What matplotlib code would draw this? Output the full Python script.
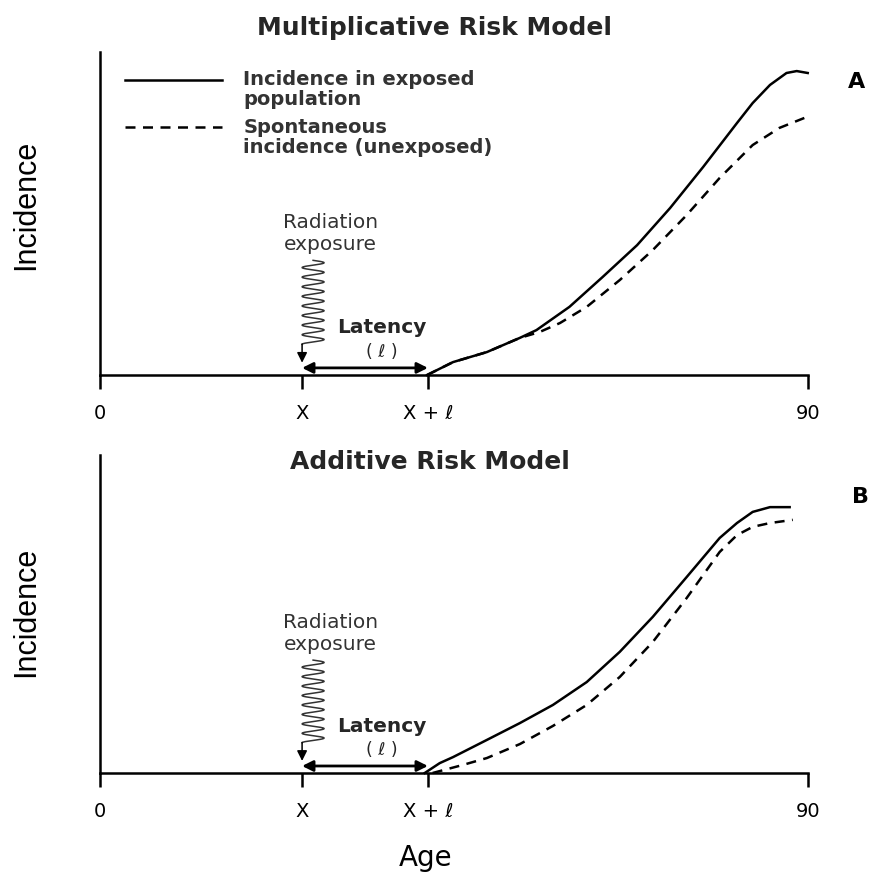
import numpy as np
import matplotlib
matplotlib.use("Agg")
from matplotlib import pyplot as plt
from matplotlib.legend_handler import HandlerLine2D

plt.rcParams.update({"font.family": ["DejaVu Sans"],
                     "font.size": 11,
                     "axes.linewidth": 1.8})

# ages (years) and incidence (relative units, 0-100 axis)
x_age = 25.7
latency = 16.0
age_max = 90

# multiplicative model
mult_exposed_age = [41.6, 44.9, 49.2, 53.4, 55.5, 59.7, 63.9, 68.3, 72.5,
                    76.7, 81.0, 83.0, 85.2, 87.3, 88.6, 90.0]
mult_exposed_inc = [0, 4.0, 7.1, 11.5, 13.9, 21.1, 30.3, 40.2, 51.7,
                    64.4, 78.0, 84.2, 89.8, 93.5, 94.1, 93.5]
mult_spont_age = [41.6, 44.9, 49.2, 53.4, 55.9, 58.5, 61.9, 66.1, 70.3,
                  74.6, 78.8, 83.0, 86.4, 89.9]
mult_spont_inc = [0, 4.0, 7.1, 11.5, 13.3, 16.1, 21.1, 29.4, 38.7,
                  49.5, 61.0, 71.2, 76.5, 79.9]

# additive model
add_exposed_age = [41.3, 43.2, 44.9, 49.2, 53.4, 57.6, 61.9, 66.1, 70.3,
                   74.6, 78.8, 81.0, 83.0, 85.2, 87.7]
add_exposed_inc = [0, 3.1, 5.0, 10.4, 15.7, 21.4, 28.6, 38.1, 49.1,
                   61.6, 73.9, 78.6, 82.1, 83.6, 83.6]
add_spont_age = [42.3, 46.1, 49.2, 53.4, 57.6, 61.9, 66.1, 70.3, 74.6,
                 78.8, 81.0, 83.0, 85.2, 88.1]
add_spont_inc = [0, 2.5, 4.7, 9.1, 14.8, 21.4, 30.2, 41.2, 55.0,
                 69.5, 74.8, 77.4, 78.6, 79.6]

tick_pos = [0, x_age, x_age + latency, age_max]
tick_lab = ["0", "X", "X + \u2113", "90"]


class FirstLineHandler(HandlerLine2D):
    # put the key line next to the first text line, not the middle
    def create_artists(self, legend, orig_handle, xdescent, ydescent,
                       width, height, fontsize, trans):
        arts = super().create_artists(legend, orig_handle, xdescent,
                                      ydescent, width, height, fontsize,
                                      trans)
        for a in arts:
            a.set_ydata(np.asarray(a.get_ydata()) + 0.55 * fontsize)
        return arts


fig = plt.figure(figsize=(8.88, 8.77), dpi=100)
ax1 = fig.add_axes([0.1126, 0.5724, 0.797, 0.3683])
ax2 = fig.add_axes([0.1126, 0.1186, 0.797, 0.3626])


def setup(ax, label_y):
    ax.set_xlim(0, age_max)
    ax.set_ylim(0, 100)
    for s in ["top", "right"]:
        ax.spines[s].set_visible(False)
    ax.set_yticks([])
    ax.set_xticks(tick_pos)
    ax.set_xticklabels(tick_lab, fontsize=14)
    ax.tick_params(axis="x", direction="out", length=10, width=1.8, pad=11)
    ax.set_ylabel("Incidence", fontsize=22, family="Liberation Sans")
    ax.yaxis.set_label_coords(-0.083, label_y)


def exposure_marks(ax):
    # wavy radiation arrow
    t = np.linspace(0, 1, 500)
    wy = 35.5 - 26 * t
    wx = x_age + 1.4 + 1.4 * np.sin(2 * np.pi * 8.75 * t)
    ax.plot(wx, wy, color="0.2", lw=1.1, clip_on=False)
    ax.annotate("", xy=(x_age, 3.8), xytext=(x_age, 9.6),
                arrowprops=dict(arrowstyle="-|>", color="k", lw=1.1,
                                mutation_scale=15, shrinkA=0, shrinkB=0))
    ax.text(x_age + 3.6, 47.2, "Radiation", ha="center", va="center",
            fontsize=14.5, color="0.2")
    ax.text(x_age + 3.6, 40.3, "exposure", ha="center", va="center",
            fontsize=14.5, color="0.2")
    # latency
    ax.annotate("", xy=(x_age, 2.2), xytext=(x_age + latency, 2.2),
                arrowprops=dict(arrowstyle="<|-|>", color="k", lw=2.0,
                                mutation_scale=16, shrinkA=0, shrinkB=0))
    ax.text(x_age + 10.1, 14.7, "Latency", ha="center", va="center",
            fontsize=14.5, fontweight="bold", color="0.15")
    ax.text(x_age + 10.1, 7.2, "( \u2113 )", ha="center", va="center",
            fontsize=12.5, color="0.15")


setup(ax1, 0.526)
setup(ax2, 0.506)

l1, = ax1.plot(mult_exposed_age, mult_exposed_inc, color="k", lw=1.8,
               clip_on=False, label="Incidence in exposed\npopulation")
l2, = ax1.plot(mult_spont_age, mult_spont_inc, color="k", lw=1.8,
               ls=(0, (4, 3)), clip_on=False,
               label="Spontaneous\nincidence (unexposed)")
ax2.plot(add_exposed_age, add_exposed_inc, color="k", lw=1.8, clip_on=False)
ax2.plot(add_spont_age, add_spont_inc, color="k", lw=1.8, ls=(0, (4, 3)),
         clip_on=False)

exposure_marks(ax1)
exposure_marks(ax2)

leg = ax1.legend(handles=[l1, l2], loc="upper left",
                 bbox_to_anchor=(0.035, 0.943), frameon=False,
                 handlelength=5.0, handletextpad=1.1, labelspacing=0.45,
                 borderaxespad=0, borderpad=0,
                 handler_map={l1: FirstLineHandler(), l2: FirstLineHandler()},
                 prop={"size": 14, "weight": "bold"})
for t in leg.get_texts():
    t.set_color("0.2")
    t.set_linespacing(1.05)

ax1.text(0.473, 1.074, "Multiplicative Risk Model", transform=ax1.transAxes,
         ha="center", va="center", fontsize=18, fontweight="bold",
         color="0.15")
ax2.text(0.466, 0.978, "Additive Risk Model", transform=ax2.transAxes,
         ha="center", va="center", fontsize=18, fontweight="bold",
         color="0.15")

fig.text(426 / 888, 1 - 858 / 877, "Age", ha="center", va="center",
         fontsize=20)
fig.text(0.955, 0.9065, "A", ha="left", va="center", fontsize=16,
         fontweight="bold")
fig.text(0.96, 0.4333, "B", ha="left", va="center", fontsize=16,
         fontweight="bold")

plt.savefig("out.png", dpi=100)
